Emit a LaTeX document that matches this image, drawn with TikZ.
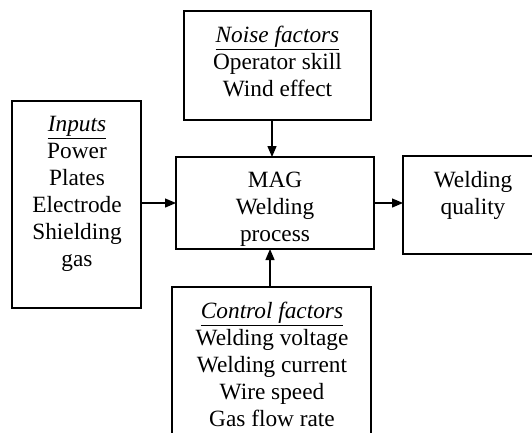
\documentclass[tikz,border=0pt]{standalone}
\usepackage{fontspec}
\setmainfont{Liberation Serif}
\usetikzlibrary{arrows.meta}
\newcommand{\hdr}[1]{\setbox0\hbox{\itshape #1}\vtop{\copy0\kern1.8pt\hrule height 1.3pt width \wd0}}
\begin{document}
\begin{tikzpicture}[x=1pt,y=-1pt,
  box/.style={draw, line width=1.3pt, inner sep=0pt, outer sep=0pt},
  lbl/.style={align=center, font=\fontsize{23.3}{27}\selectfont, inner sep=0pt, anchor=base},
  arr/.style={-{Triangle[length=11pt,width=9pt]}, line width=1.3pt}]
\useasboundingbox (0,0) rectangle (532,432);
% boxes
\node[box, minimum width=187pt, minimum height=109pt] (noise) at (277.5,65.5) {};
\node[box, minimum width=198pt, minimum height=92pt] (mag) at (275,203) {};
\node[box, minimum width=129pt, minimum height=207pt] (in) at (76.5,204.5) {};
\node[box, minimum width=199pt, minimum height=153pt] (ctrl) at (271.5,363.5) {};
\node[box, minimum width=142pt, minimum height=98pt] (out) at (474,205) {};
% texts (anchored at the baseline of the last line)
\node[lbl] (noiset) at (277.5,96) {\hdr{Noise factors}\\Operator skill\\Wind effect};
\node[lbl] (magt) at (275,241) {MAG\\Welding\\process};
\node[lbl] (int) at (77,266) {\hdr{Inputs}\\Power\\Plates\\Electrode\\Shielding\\gas};
\node[lbl] (ctrlt) at (272,426) {\hdr{Control factors}\\Welding voltage\\Welding current\\Wire speed\\Gas flow rate};
\node[lbl] (outt) at (473,214) {Welding\\quality};
% connectors
\coordinate (nx) at (272,0);
\coordinate (cx) at (270,0);
\draw[arr] (in.east |- mag.west) -- (mag.west);
\draw[arr] (mag.east) -- (out.west |- mag.east);
\draw[arr] (noise.south -| nx) -- (mag.north -| nx);
\draw[arr] (ctrl.north -| cx) -- (mag.south -| cx);
\end{tikzpicture}
\end{document}
